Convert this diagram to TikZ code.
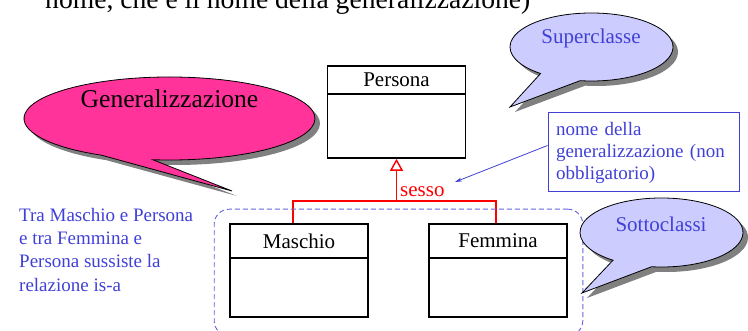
\documentclass[tikz,border=0pt]{standalone}
\usepackage{fontspec}
\setmainfont{Liberation Serif}
\usetikzlibrary{arrows.meta,fit}

\definecolor{genpink}{RGB}{255,51,153}
\definecolor{bubblelilac}{RGB}{204,204,255}
\definecolor{shadowgray}{RGB}{128,128,128}
\definecolor{noteblue}{RGB}{64,64,214}
\definecolor{frameblue}{RGB}{100,100,225}

\tikzset{
  classbox/.style={draw, line width=1.6pt, minimum width=138pt, minimum height=93pt, inner sep=0pt},
  classname/.style={draw, line width=1.6pt, minimum width=138pt, minimum height=34pt, inner sep=0pt,
    anchor=north, font=\fontsize{21}{25}\selectfont},
  bubble/.style={draw, line width=0.8pt,
    preaction={fill=shadowgray, transform canvas={xshift=5pt,yshift=-5pt}}},
  bubbletext/.style={anchor=base, inner sep=0pt, font=\fontsize{21}{25}\selectfont, text=noteblue},
  bluetext/.style={font=\fontsize{19}{23.3}\selectfont, text=noteblue, align=left},
  isaline/.style={draw=red, line width=1.4pt},
}

\begin{document}
\begin{tikzpicture}[x=1pt,y=1pt]
\useasboundingbox (0,0) rectangle (748,-331);
\clip (0,0) rectangle (748,-331);

% title line, cut at the top
\node[anchor=base west, inner sep=0pt, font=\fontsize{27.6}{30}\selectfont] (toptext) at (45,-9)
  {nome, che è il nome della generalizzazione)};

% classes
\node[classbox, minimum height=92pt] (persona) at (396.5,-112) {};
\node[classname, minimum height=28pt] (personaname) at (persona.north) {Persona};
\node[classbox] (maschio) at (299,-270.5) {};
\node[classname] (maschioname) at (maschio.north) {Maschio};
\node[classbox] (femmina) at (498,-270.5) {};
\node[classname] (femminaname) at (femmina.north) {Femmina};

% generalization
\coordinate (fork) at (persona.south |- 0,-201);
\draw[isaline] ([xshift=-6pt]maschio.north) |- (fork) -| ([xshift=-2pt]femmina.north);
\draw[isaline, -{Triangle[open, fill=white, width=13pt, length=12pt]}] (fork) -- (persona.south);
\node[anchor=base west, inner sep=0pt, text=red, font=\fontsize{21}{25}\selectfont] (sesso) at (400,-197) {sesso};

% subclasses frame
\node[draw=frameblue, line width=0.9pt, dash pattern=on 5pt off 3pt, rounded corners=15pt,
  inner xsep=15pt, inner ysep=16pt, yshift=-2pt, fit=(maschio)(femmina)] (subframe) {};

% note on the name
\node[draw=noteblue, line width=1pt, bluetext, text width=175pt, inner xsep=8pt,
  minimum height=79pt, font=\fontsize{19}{22}\selectfont] (note) at (643.5,-152.5)
  {nome della\\generalizzazione (non\\obbligatorio)};
\coordinate (notetip) at (455,-182);
\draw[noteblue, line width=0.8pt, -{Stealth[length=7pt,width=4pt]}] ([yshift=7pt]note.west) -- (notetip);

\node[bluetext, anchor=north west, inner sep=0pt] (isatext) at (19,-208)
  {Tra Maschio e Persona\\e tra Femmina e\\Persona sussiste la\\relazione is-a};

% callouts
\draw[bubble, fill=genpink] ([shift={(-96.6:145.5pt and 41.5pt)}]169.5,-118.5)
  arc[start angle=-96.6, end angle=242, x radius=145.5pt, y radius=41.5pt] -- (232,-191) -- cycle;
\node[anchor=base, inner sep=0pt, font=\fontsize{25.6}{30}\selectfont] (gentext) at (169.5,-108) {Generalizzazione};

\draw[bubble, fill=bubblelilac] ([shift={(-98:81.5pt and 34pt)}]591.5,-47)
  arc[start angle=-98, end angle=231.3, x radius=81.5pt, y radius=34pt] -- (510,-107) -- cycle;
\node[bubbletext] (supertext) at (591,-44) {Superclasse};

\draw[bubble, fill=bubblelilac] ([shift={(-97:81.5pt and 34.5pt)}]661.5,-232.5)
  arc[start angle=-97, end angle=233.5, x radius=81.5pt, y radius=34.5pt] -- (582,-293) -- cycle;
\node[bubbletext] (subtext) at (661,-232) {Sottoclassi};
\end{tikzpicture}
\end{document}
